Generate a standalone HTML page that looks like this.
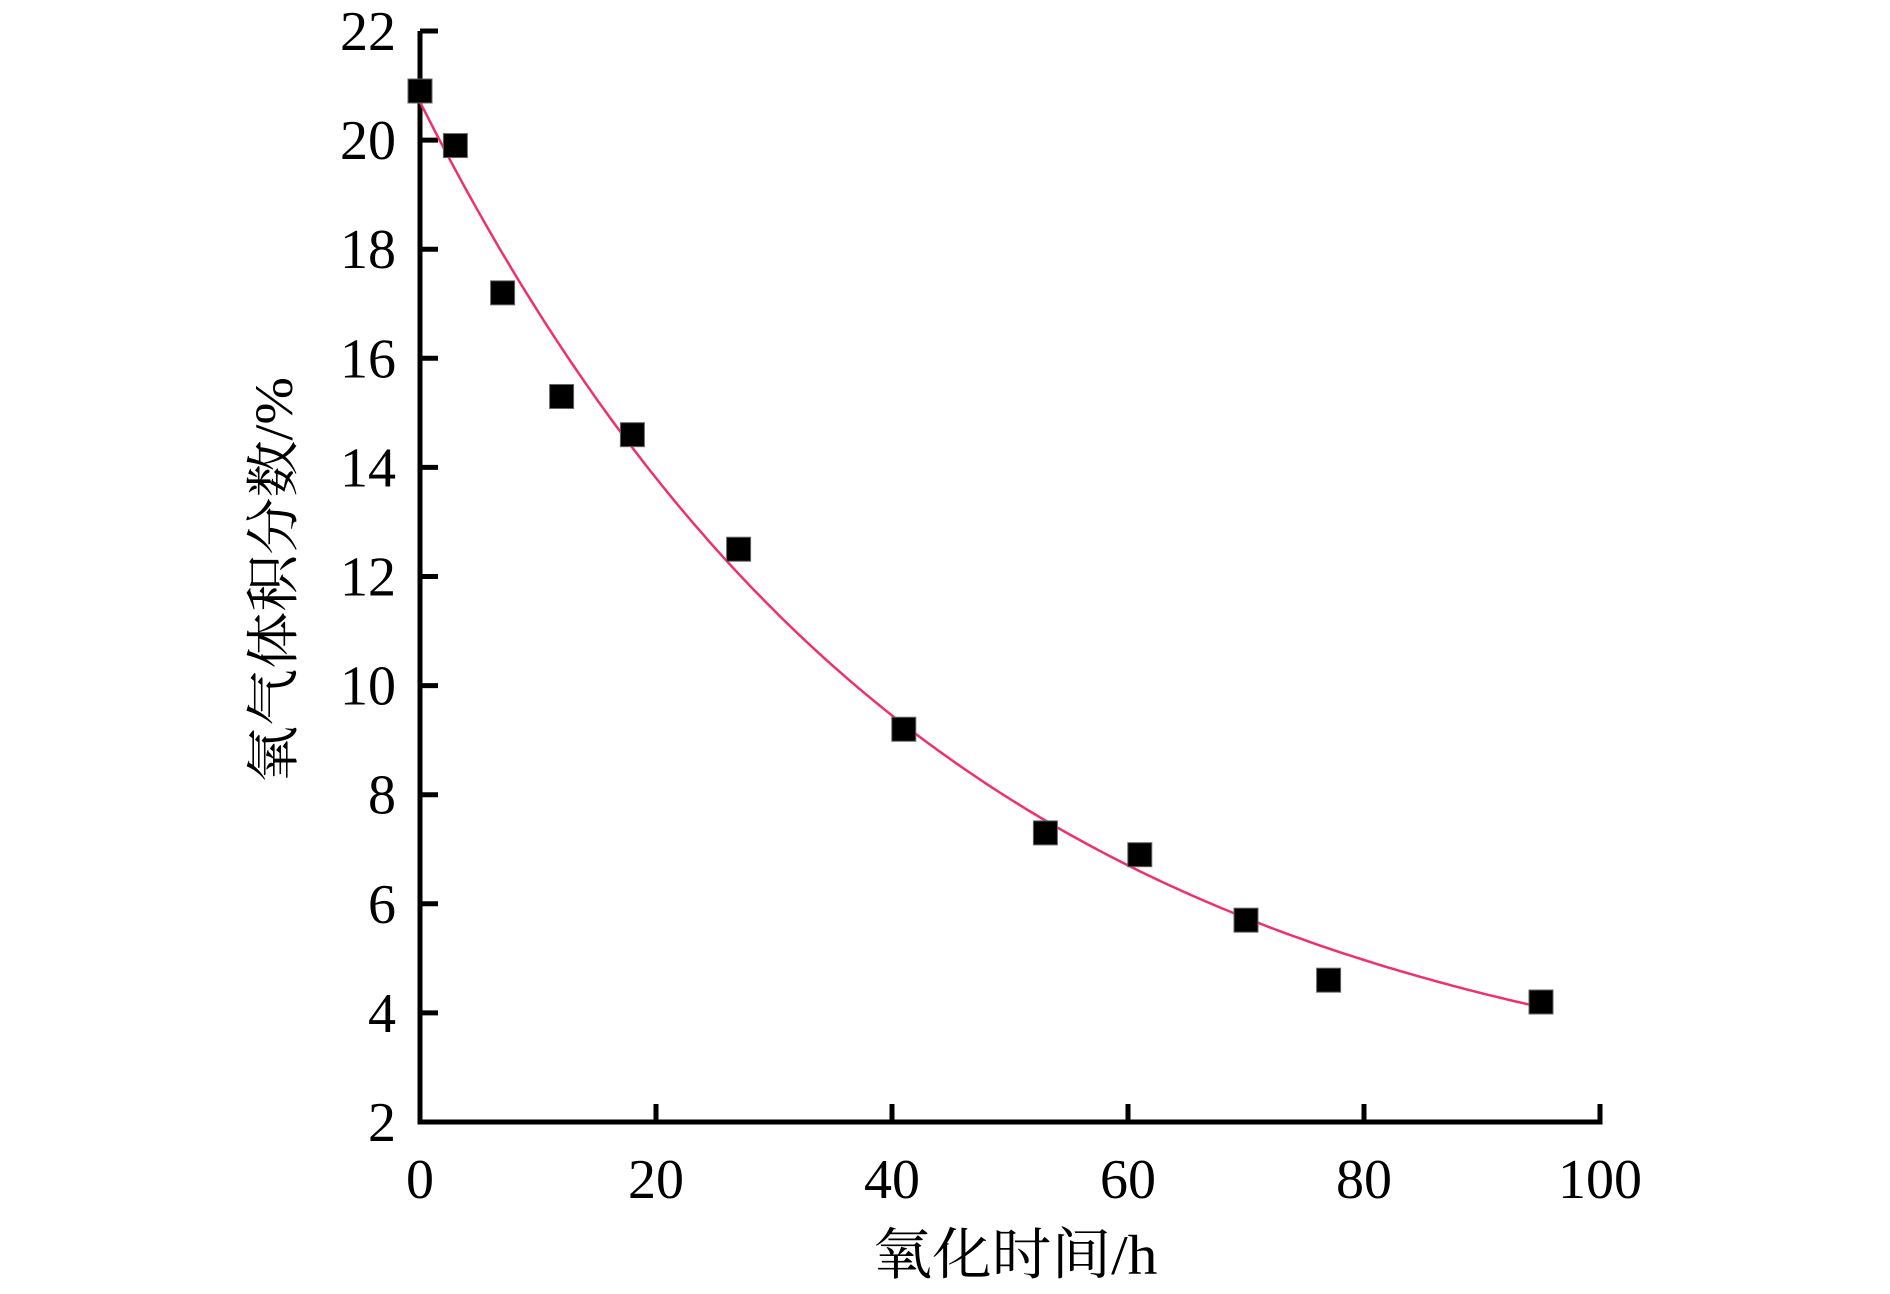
<!DOCTYPE html>
<html><head><meta charset="utf-8"><style>html,body{margin:0;padding:0;background:#fff}</style></head>
<body>
<svg width="1890" height="1289" xmlns="http://www.w3.org/2000/svg">
<rect width="1890" height="1289" fill="#fff"/>
<g id="ax" stroke="#000" stroke-width="5" fill="none">
<path d="M420,31 V1122 H1600 V1104"/>
</g>
<g stroke="#000" stroke-width="5" id="ticks"></g>
<g font-family="Liberation Serif, serif" font-size="56" fill="#000" id="labels"></g>
<path id="fit" fill="none" stroke="#f0306a" stroke-width="2.5"/>
<g id="pts" fill="#000" stroke="#666" stroke-width="1"></g>
<text x="1015" y="1274" font-family="Liberation Serif, 'Noto Serif CJK SC', serif" font-size="56" text-anchor="middle" textLength="285" lengthAdjust="spacingAndGlyphs">氧化时间/h</text>
<text transform="translate(292,580) rotate(-90)" font-family="Liberation Serif, 'Noto Serif CJK SC', serif" font-size="54" text-anchor="middle" textLength="406" lengthAdjust="spacingAndGlyphs">氧气体积分数/%</text>
<script>
var X=v=>420+v*11.8, Y=v=>1122-(v-2)*54.55;
var ns="http://www.w3.org/2000/svg";
function el(t,a,p){var e=document.createElementNS(ns,t);for(var k in a)e.setAttribute(k,a[k]);document.getElementById(p).appendChild(e);return e;}
for(var v=4;v<=22;v+=2){el('line',{x1:420,x2:438,y1:Y(v),y2:Y(v)},'ticks');}
for(var v=20;v<=80;v+=20){el('line',{x1:X(v),x2:X(v),y1:1122,y2:1104},'ticks');}
for(var v=2;v<=22;v+=2){var t=el('text',{x:396,y:Y(v)+19,'text-anchor':'end'},'labels');t.textContent=v;}
for(var v=0;v<=100;v+=20){var t=el('text',{x:X(v),y:1198,'text-anchor':'middle'},'labels');t.textContent=v;}
var d='';for(var x=0;x<=95;x+=0.5){var y=18.7*Math.exp(-0.023*x)+2;d+=(x?'L':'M')+X(x).toFixed(1)+','+Y(y).toFixed(1);}
document.getElementById('fit').setAttribute('d',d);
[[0,20.9],[3,19.9],[7,17.2],[12,15.3],[18,14.6],[27,12.5],[41,9.2],[53,7.3],[61,6.9],[70,5.7],[77,4.6],[95,4.2]].forEach(p=>{el('rect',{x:X(p[0])-12,y:Y(p[1])-12,width:24,height:24},'pts');});
</script>
</svg>
</body></html>
